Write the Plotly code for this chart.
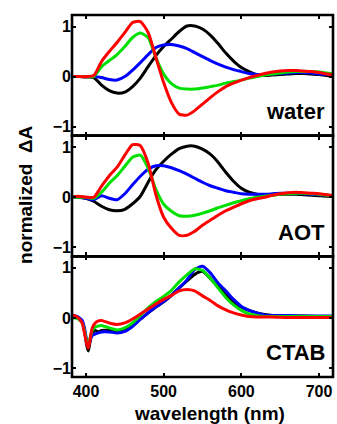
import plotly.graph_objects as go
from plotly.subplots import make_subplots

# ---------------- data ----------------
wl = [380, 390, 400, 410, 420, 430, 440, 450, 460, 470, 480, 490, 500, 510, 520, 530, 540,
      550, 560, 570, 580, 590, 600, 610, 620, 630, 640, 650, 660, 670, 680, 690, 700, 710, 720]

water_black = [0, 0, -0.01, -0.02, -0.17, -0.28, -0.33, -0.31, -0.2, -0.03, 0.2, 0.42, 0.6, 0.75, 0.9, 1.01, 1.01,
               0.95, 0.83, 0.66, 0.47, 0.31, 0.18, 0.1, 0.04, 0.02, 0.03, 0.04, 0.05, 0.06, 0.06, 0.05, 0.04, 0.02, 0.0]
water_blue = [0, 0, 0, 0, -0.02, -0.06, -0.07, 0.0, 0.13, 0.28, 0.44, 0.58, 0.63, 0.64, 0.61, 0.56, 0.48,
              0.4, 0.32, 0.25, 0.19, 0.14, 0.1, 0.06, 0.04, 0.04, 0.05, 0.06, 0.07, 0.08, 0.08, 0.07, 0.05, 0.04, 0.02]
water_green = [0, 0, 0, 0.0, 0.2, 0.32, 0.44, 0.6, 0.78, 0.87, 0.78, 0.38, 0.05, -0.14, -0.23, -0.25, -0.25,
               -0.23, -0.2, -0.17, -0.13, -0.1, -0.07, -0.03, 0.0, 0.03, 0.05, 0.07, 0.09, 0.1, 0.1, 0.1, 0.09, 0.07, 0.05]
water_red = [0, 0, 0, 0.02, 0.3, 0.5, 0.68, 0.88, 1.08, 1.1, 0.88, 0.38, -0.12, -0.52, -0.75, -0.77, -0.68,
             -0.55, -0.42, -0.3, -0.2, -0.13, -0.07, -0.02, 0.02, 0.06, 0.09, 0.11, 0.12, 0.12, 0.11, 0.1, 0.08, 0.05, 0.03]

aot_black = [0.02, 0.0, -0.02, -0.08, -0.18, -0.25, -0.27, -0.24, -0.13, 0.02, 0.3, 0.55, 0.72, 0.86, 0.97, 1.02, 1.02,
             0.96, 0.86, 0.7, 0.5, 0.32, 0.18, 0.1, 0.06, 0.05, 0.05, 0.06, 0.06, 0.06, 0.05, 0.04, 0.03, 0.02, 0.02]
aot_blue = [0.0, 0.0, -0.02, -0.05, 0.03, -0.02, -0.05, 0.07, 0.25, 0.42, 0.56, 0.63, 0.63, 0.59, 0.53, 0.46, 0.38,
            0.3, 0.23, 0.18, 0.13, 0.1, 0.07, 0.06, 0.06, 0.06, 0.07, 0.08, 0.08, 0.08, 0.07, 0.06, 0.05, 0.04, 0.02]
aot_green = [0.0, 0.0, 0.0, -0.02, 0.1, 0.28, 0.43, 0.62, 0.8, 0.84, 0.58, 0.16, -0.14, -0.28, -0.37, -0.38, -0.36,
             -0.32, -0.27, -0.21, -0.16, -0.11, -0.07, -0.03, 0.0, 0.02, 0.04, 0.06, 0.07, 0.08, 0.08, 0.07, 0.06, 0.04, 0.03]
aot_red = [0.0, 0.02, 0.0, 0.0, 0.22, 0.43, 0.6, 0.84, 1.05, 1.03, 0.68, 0.05, -0.4, -0.62, -0.76, -0.76, -0.68,
           -0.56, -0.46, -0.36, -0.27, -0.2, -0.13, -0.07, -0.03, 0.0, 0.04, 0.07, 0.09, 0.1, 0.09, 0.08, 0.07, 0.05, 0.03]

wl_ctab = [380, 385, 390, 395, 398, 401, 403, 405, 408, 412, 416, 420, 430, 440, 450, 460, 470, 480, 490, 500,
           510, 520, 530, 540, 550, 560, 570, 580, 590, 600, 610, 620, 630, 640, 660, 680, 700, 720]

ctab_black = [0.05, 0.03, 0.0, -0.08, -0.25, -0.55, -0.66, -0.5, -0.3, -0.25, -0.28, -0.25, -0.25, -0.28, -0.25, -0.15, -0.02, 0.1, 0.22, 0.32,
              0.45, 0.6, 0.74, 0.87, 0.93, 0.79, 0.62, 0.47, 0.32, 0.21, 0.15, 0.1, 0.07, 0.05, 0.04, 0.04, 0.03, 0.03]
ctab_blue = [0.05, 0.05, 0.02, -0.05, -0.2, -0.45, -0.55, -0.45, -0.35, -0.32, -0.3, -0.28, -0.28, -0.3, -0.27, -0.17, -0.03, 0.1, 0.22, 0.33,
             0.45, 0.6, 0.76, 0.97, 1.03, 0.9, 0.7, 0.54, 0.37, 0.23, 0.15, 0.1, 0.06, 0.05, 0.05, 0.04, 0.04, 0.04]
ctab_green = [0.0, 0.0, -0.02, -0.1, -0.25, -0.48, -0.55, -0.42, -0.25, -0.18, -0.16, -0.15, -0.2, -0.24, -0.2, -0.1, 0.05, 0.2, 0.33, 0.43,
              0.55, 0.72, 0.86, 0.98, 0.95, 0.79, 0.6, 0.41, 0.26, 0.15, 0.08, 0.05, 0.03, 0.03, 0.03, 0.03, 0.03, 0.03]
ctab_red = [0.05, 0.05, 0.0, -0.1, -0.3, -0.52, -0.6, -0.45, -0.2, -0.1, -0.06, -0.05, -0.1, -0.13, -0.1, -0.02, 0.08, 0.18, 0.28, 0.37,
            0.45, 0.54, 0.57, 0.54, 0.44, 0.35, 0.24, 0.16, 0.1, 0.06, 0.03, 0.02, 0.02, 0.02, 0.01, 0.01, 0.01, 0.01]

panel_labels = ["water", "AOT", "CTAB"]
x_ticks = [400, 500, 600, 700]
y_ticks = [-1, 0, 1]
colors = ["#000000", "#0000ff", "#00e000", "#ff0000"]

panels = [
    (wl, [water_black, water_blue, water_green, water_red]),
    (wl, [aot_black, aot_blue, aot_green, aot_red]),
    (wl_ctab, [ctab_black, ctab_blue, ctab_green, ctab_red]),
]

FONT = "Liberation Sans, Arial, sans-serif"

fig = make_subplots(rows=3, cols=1, shared_xaxes=True, vertical_spacing=0)

for i, (x, series) in enumerate(panels):
    for ys, c in zip(series, colors):
        fig.add_trace(go.Scatter(x=x, y=ys, mode="lines",
                                 line=dict(color=c, width=3, shape="spline", smoothing=0.6),
                                 showlegend=False, hoverinfo="skip"), row=i + 1, col=1)
    fig.add_annotation(text=panel_labels[i], xref="x domain", yref="y domain",
                       x=0.978, y=0.2, xanchor="right", yanchor="middle", showarrow=False,
                       font=dict(family=FONT, size=22, color="black", weight="bold"),
                       row=i + 1, col=1)
    fig.add_shape(type="rect", xref="x domain", yref="y domain", x0=0, x1=1, y0=0, y1=1,
                  line=dict(color="black", width=2.6), fillcolor="rgba(0,0,0,0)", layer="above",
                  row=i + 1, col=1)

axis_common = dict(showline=False, ticks="inside", automargin=False,
                   ticklen=4, tickwidth=1.5, tickcolor="black", showgrid=False, zeroline=False,
                   tickfont=dict(family=FONT, size=16, color="black", weight="bold"))

for r in range(1, 4):
    fig.update_xaxes(range=[382, 718], tickvals=x_ticks, mirror="allticks",
                     showticklabels=(r == 3), ticklabelstandoff=3, row=r, col=1, **axis_common)
    fig.update_yaxes(range=[-1.18, 1.23], tickvals=y_ticks, mirror="allticks",
                     row=r, col=1, **axis_common)

fig.add_annotation(text="normalized  ΔA", xref="paper", yref="paper", x=-0.176, y=0.503,
                   textangle=-90, showarrow=False, xanchor="center", yanchor="middle",
                   font=dict(family=FONT, size=19, color="black", weight="bold"))
fig.add_annotation(text="wavelength (nm)", xref="paper", yref="paper", x=0.525, y=-0.1,
                   showarrow=False, xanchor="center", yanchor="middle",
                   font=dict(family=FONT, size=19, color="black", weight="bold"))

fig.update_layout(width=337, height=424, margin=dict(l=72, r=4, t=15, b=47, autoexpand=False),
                  plot_bgcolor="white", paper_bgcolor="white")

fig.write_html("out.html", config={"displayModeBar": False},
               post_script="document.body.style.margin='0';document.body.style.overflow='hidden';")
